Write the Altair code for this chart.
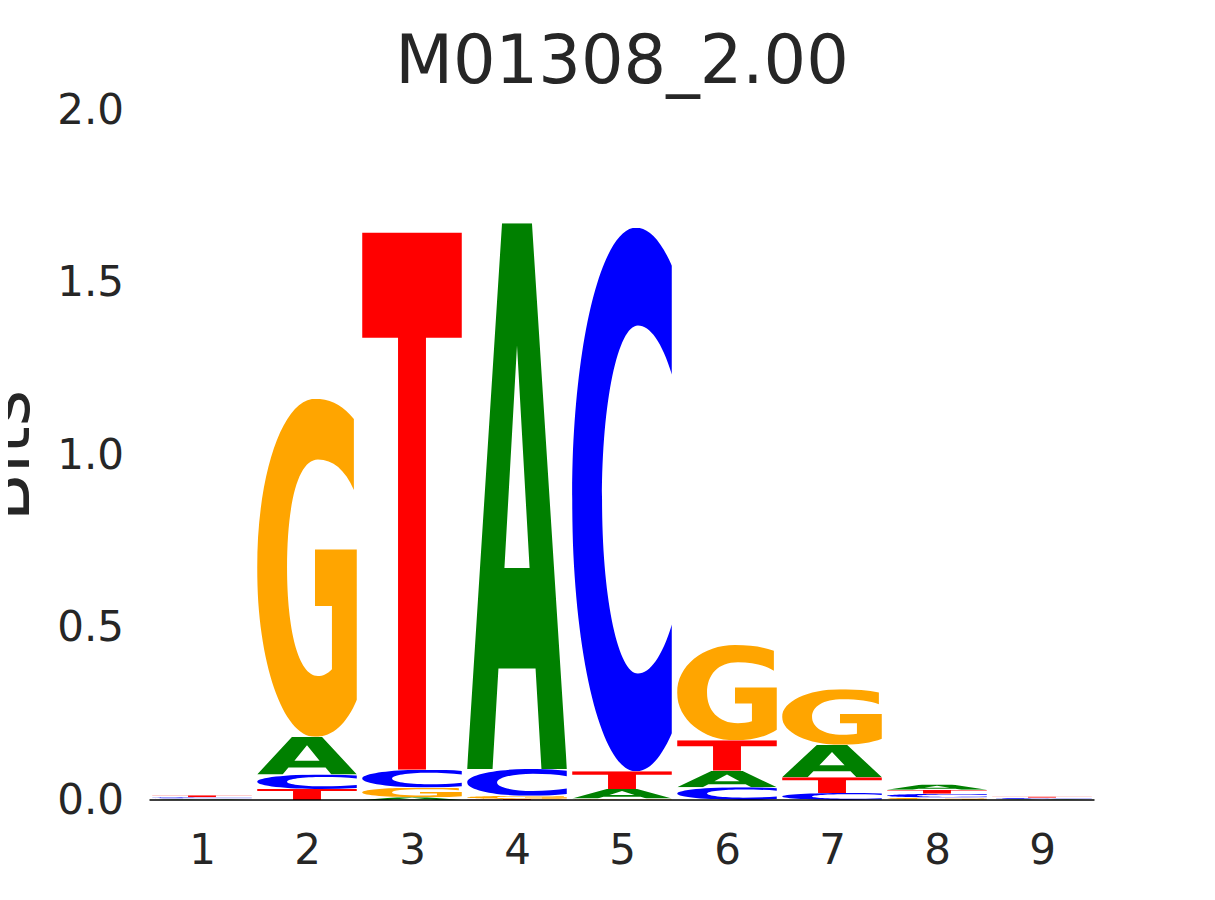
import base64
import altair as alt
import pandas as pd

# ---- data (information content in bits) ----
positions = [1, 2, 3, 4, 5, 6, 7, 8, 9]
bits_A = [0.002, 0.109, 0.008, 1.582, 0.028, 0.048, 0.094, 0.015, 0.002]
bits_C = [0.004, 0.042, 0.052, 0.078, 1.576, 0.037, 0.020, 0.011, 0.0035]
bits_G = [0.002, 0.980, 0.028, 0.009, 0.004, 0.276, 0.161, 0.007, 0.001]
bits_T = [0.006, 0.032, 1.557, 0.003, 0.051, 0.088, 0.046, 0.012, 0.004]
y_ticks = [0.0, 0.5, 1.0, 1.5, 2.0]
title_text = "M01308_2.00"
y_title = "Bits"

letters = ["A", "C", "G", "T"]
heights = {"A": bits_A, "C": bits_C, "G": bits_G, "T": bits_T}
colors = {"A": "#008000", "C": "#0000FF", "G": "#FFA500", "T": "#FF0000"}

# glyph outlines in a 100x100 box, stretched to fill each letter's cell
glyph_paths = {
    "A": "M0,100 L35,0 L65,0 L100,100 L74.5,100 L68.6,81.6 L31.4,81.6 L25.5,100 Z "
         "M50,22.4 L62.6,63.2 L37.4,63.2 Z",
    "C": "M100,7 C88,2 76,0 64,0 C29,0 0,22 0,50 C0,78 29,100 64,100 "
         "C76,100 88,98 100,93 L100,73 C90,79 78,82 66,82 C46,82 30,68 30,50 "
         "C30,32 46,18 66,18 C78,18 90,21 100,27 Z",
    "G": "M97,6 C86,2 74,0 58,0 C26,0 0,22 0,50 C0,78 26,100 58,100 "
         "C76,100 90,96 100,89 L100,44.6 L58,44.6 L58,61.3 L75,61.3 L75,80 "
         "C70,81.5 66,82 61,82 C41,82 30,68 30,50 C30,31 41,18 61,18 "
         "C76,18 88,21 97,27 Z",
    "T": "M0,0 H100 V19.6 H64 V100 H36 V19.6 H0 Z",
}


def glyph_url(letter):
    svg = (
        '<svg xmlns="http://www.w3.org/2000/svg" width="100" height="100" '
        'viewBox="0 0 100 100" preserveAspectRatio="none">'
        f'<path d="{glyph_paths[letter]}" fill="{colors[letter]}" fill-rule="evenodd"/>'
        "</svg>"
    )
    return "data:image/svg+xml;base64," + base64.b64encode(svg.encode()).decode()


rows = []
for i, p in enumerate(positions):
    stack = sorted((heights[l][i], l) for l in letters)  # smallest at bottom
    base = 0.0
    for h, l in stack:
        rows.append(dict(pos=p, letter=l, bits=h, y0=base, y1=base + h, url=glyph_url(l)))
        base += h
df = pd.DataFrame(rows)

FONT = "DejaVu Sans"
TXT = "#262626"

x_scale = alt.Scale(domain=[0.5, 9.5], nice=False, zero=False)
y_scale = alt.Scale(domain=[0, 2], nice=False, zero=False)

letters_layer = (
    alt.Chart(df)
    .transform_calculate(xa="datum.pos - 0.475", xb="datum.pos + 0.475")
    .mark_image(aspect=False)
    .encode(
        x=alt.X(
            "xa:Q",
            scale=x_scale,
            axis=alt.Axis(
                values=positions, format="d", title=None,
                labelPadding=63, labelBaseline="alphabetic",
            ),
        ),
        x2="xb:Q",
        y=alt.Y(
            "y0:Q",
            scale=y_scale,
            axis=alt.Axis(
                values=y_ticks, format=".1f", title=y_title,
                labelPadding=26, titleX=-121, titleY=345, titleAngle=-90,
                titleAlign="center", titleBaseline="alphabetic",
                titleFontSize=70, titleFontWeight=400,
            ),
        ),
        y2="y1:Q",
        url="url:N",
    )
)

baseline = (
    alt.Chart(pd.DataFrame({"z": [0]}))
    .mark_rule(color="black", strokeWidth=1.5)
    .encode(y=alt.datum(0), x=alt.datum(0.5), x2=alt.datum(9.5))
)

chart = (
    alt.layer(letters_layer, baseline)
    .properties(
        width=945,
        height=690,
        padding={"left": 141.5, "top": 102, "right": 100, "bottom": 80},
        autosize="none",
        background="white",
        title=alt.TitleParams(
            text=title_text, font=FONT, fontSize=67, fontWeight="normal",
            color=TXT, anchor="middle", offset=-8,
        ),
    )
    .configure_axis(
        labelFont=FONT, labelFontSize=42, labelColor=TXT,
        titleFont=FONT, titleColor=TXT, titleFontWeight=400,
        domain=False, ticks=False, tickSize=0, grid=False,
    )
    .configure_view(strokeWidth=0)
)

chart.save("out.html", embed_options={"renderer": "svg", "actions": False})
